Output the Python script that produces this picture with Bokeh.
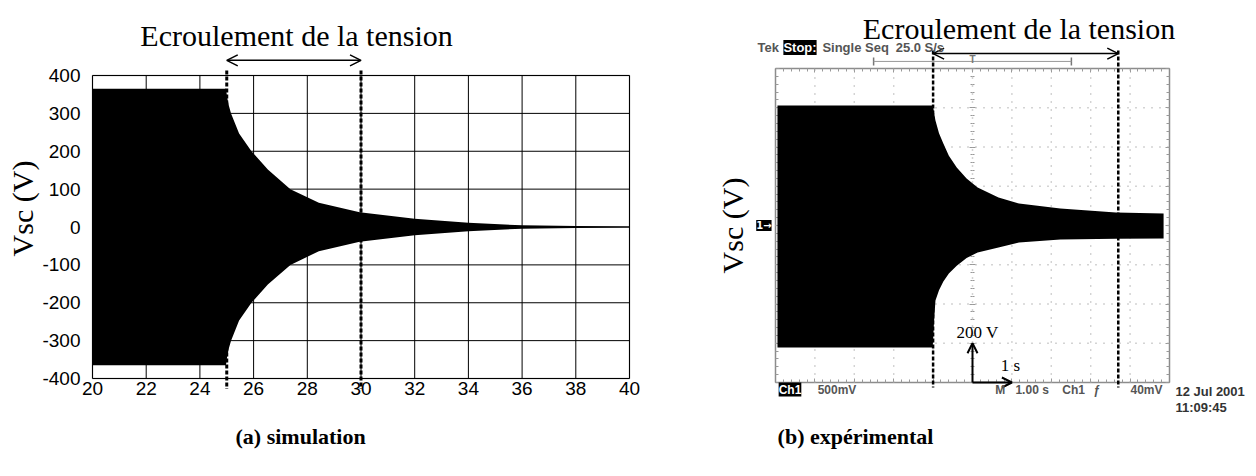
import math
from bokeh.plotting import figure
from bokeh.layouts import row
from bokeh.models import (Label, Arrow, OpenHead, TeeHead, FixedTicker, LinearAxis,
                          Range1d, BoxAnnotation)
from bokeh.embed import file_html
from bokeh.resources import INLINE

# ---------------- (a) simulation : envelope of Vsc (V) vs time (s)
sim_t = [20.0, 24.97, 25.02, 25.08, 25.16, 25.46, 25.92, 26.53, 27.37, 28.43,
         29.95, 32.0, 34.0, 36.0, 38.0, 40.0]
sim_amp = [365, 365, 340, 320, 300, 247, 200, 152, 100, 64,
           39, 22, 11, 4.5, 2.5, 1.5]
sim_xticks = [20, 22, 24, 26, 28, 30, 32, 34, 36, 38, 40]
sim_yticks = [-400, -300, -200, -100, 0, 100, 200, 300, 400]
sim_collapse = [25, 30]

# ---------------- (b) experimental (oscilloscope, 200 V/div, 1 s/div)
exp_t = [0.05, 3.99, 4.02, 4.06, 4.15, 4.26, 4.40, 4.60, 4.85, 5.13, 5.66,
         6.18, 7.23, 8.64, 9.85]
exp_top = [612, 612, 580, 535, 470, 418, 355, 296, 240, 194, 143,
           112, 87, 66, 61]
exp_bot = [-622, -622, -500, -382, -330, -285, -245, -205, -165, -138, -112,
           -87, -71, -67, -66]
exp_collapse = [4.0, 8.7]
volts_per_div = 200
secs_per_div = 1
scope_div_x = [0, 1, 2, 3, 4, 5, 6, 7, 8, 9, 10]                 # s
scope_div_y = [-800, -600, -400, -200, 0, 200, 400, 600, 800]    # V

SERIF = "Liberation Serif"
SANS = "Liberation Sans"
GRAY = "#555555"

# ---------------- layout (pixels)
H = 470
B_T, B_B = 6, 60                 # common top / bottom borders of both figures
L_W, L_BL, L_BR = 688, 80, 47    # left figure
R_W, R_BL, R_BR = 566, 6, 6      # right figure

# ======================= left figure =======================
s_px_x = 537 / (sim_xticks[-1] - sim_xticks[0])     # px per second
s_px_y = 303 / (sim_yticks[-1] - sim_yticks[0])     # px per volt
lx0 = sim_xticks[0] - (92 - L_BL) / s_px_x
ly1 = sim_yticks[-1] + (75 - B_T) / s_px_y
p1 = figure(width=L_W, height=H,
            x_range=Range1d(lx0, lx0 + (L_W - L_BL - L_BR) / s_px_x),
            y_range=Range1d(ly1 - (H - B_T - B_B) / s_px_y, ly1),
            output_backend="svg", toolbar_location=None,
            min_border_left=L_BL, min_border_right=L_BR,
            min_border_top=B_T, min_border_bottom=B_B)
p1.background_fill_color = "white"
p1.border_fill_color = "white"
p1.outline_line_color = None
p1.xgrid.visible = False
p1.ygrid.visible = False

sbx = (sim_xticks[0], sim_xticks[-1])
sby = (sim_yticks[0], sim_yticks[-1])
p1.xaxis.ticker = FixedTicker(ticks=sim_xticks)
p1.yaxis.ticker = FixedTicker(ticks=sim_yticks)
p1.xaxis.fixed_location = sim_yticks[0]
p1.xaxis.bounds = sbx
p1.yaxis.bounds = sby
p1.yaxis.major_label_overrides = {v: str(v) for v in sim_yticks}
for ax in (p1.xaxis, p1.yaxis):
    ax.axis_line_color = None
    ax.major_tick_line_color = None
    ax.minor_tick_line_color = None
    ax.major_tick_in = 0
    ax.major_tick_out = 0
    ax.major_label_text_font = SANS
    ax.major_label_text_font_size = "19px"
    ax.major_label_text_color = "black"
p1.yaxis.major_label_standoff = 0
p1.xaxis.major_label_standoff = 3
p1.yaxis.axis_label = "Vsc (V)"
p1.yaxis.axis_label_text_font = SERIF
p1.yaxis.axis_label_text_font_size = "30px"
p1.yaxis.axis_label_text_font_style = "normal"
p1.yaxis.axis_label_text_color = "black"
p1.yaxis.axis_label_standoff = 0

# grid of the chart box (at the tick positions)
p1.segment(x0=sim_xticks, y0=[sby[0]] * len(sim_xticks), x1=sim_xticks,
           y1=[sby[1]] * len(sim_xticks), line_color="black", line_width=1)
p1.segment(x0=[sbx[0]] * len(sim_yticks), y0=sim_yticks, x1=[sbx[1]] * len(sim_yticks),
           y1=sim_yticks, line_color="black", line_width=1)

p1.varea(x=sim_t, y1=[-a for a in sim_amp], y2=sim_amp, fill_color="black")
p1.add_layout(BoxAnnotation(left=sbx[0], right=sbx[1], bottom=sby[0], top=sby[1],
                            fill_color=None, line_color="black", line_width=1.5))

for xc in sim_collapse:
    p1.add_layout(Arrow(x_start=xc, y_start=413, x_end=xc, y_end=-428, start=None, end=None,
                        line_color="black", line_width=3, line_dash="4 2"))
p1.add_layout(Arrow(x_start=sim_collapse[0], y_start=440, x_end=sim_collapse[1], y_end=440,
                    start=OpenHead(size=11, line_width=1.5), end=OpenHead(size=11, line_width=1.5),
                    line_width=1.5, line_color="black"))
p1.add_layout(Label(x=27.6, y=505, text="Ecroulement de la tension", text_font=SERIF,
                    text_font_size="30px", text_color="black", text_align="center",
                    text_baseline="alphabetic"))
p1.add_layout(Label(x=27.75, y=-553, text="(a) simulation", text_font=SERIF,
                    text_font_size="22px", text_font_style="bold", text_color="black",
                    text_align="center", text_baseline="middle"), "below")

# ======================= right figure (oscilloscope screen) =======================
px_per_s = 394 / (scope_div_x[-1] - scope_div_x[0])
px_per_v = 314 / (scope_div_y[-1] - scope_div_y[0])
rx0 = scope_div_x[0] - (87 - R_BL) / px_per_s
ry1 = scope_div_y[-1] + (68 - B_T) / px_per_v
p2 = figure(width=R_W, height=H,
            x_range=Range1d(rx0, rx0 + (R_W - R_BL - R_BR) / px_per_s),
            y_range=Range1d(ry1 - (H - B_T - B_B) / px_per_v, ry1),
            x_axis_location=None, y_axis_location=None,
            output_backend="svg", toolbar_location=None,
            min_border_left=R_BL, min_border_right=R_BR,
            min_border_top=B_T, min_border_bottom=B_B)
p2.background_fill_color = "white"
p2.border_fill_color = "white"
p2.outline_line_color = None
for g in p2.grid:
    g.visible = False

minor_x = [i * secs_per_div / 5 for i in range(0, 51)]
minor_y = [scope_div_y[0] + i * volts_per_div / 5 for i in range(0, 41)]
xb = (scope_div_x[0], scope_div_x[-1])
yb = (scope_div_y[0], scope_div_y[-1])

# dotted graticule
inner_x = scope_div_x[1:-1]
inner_y = scope_div_y[1:-1]
p2.segment(x0=inner_x, y0=[yb[0]] * len(inner_x), x1=inner_x, y1=[yb[1]] * len(inner_x),
           line_color="#a8a8a8", line_width=1.5, line_dash="1 7")
p2.segment(x0=[xb[0]] * len(inner_y), y0=inner_y, x1=[xb[1]] * len(inner_y), y1=inner_y,
           line_color="#a8a8a8", line_width=1.5, line_dash="1 7")

def scope_axis(side, loc, border):
    horiz = side in ("below", "above")
    ticker = FixedTicker(ticks=scope_div_x if horiz else scope_div_y,
                         minor_ticks=minor_x if horiz else minor_y)
    ax = LinearAxis(ticker=ticker, fixed_location=loc, bounds=xb if horiz else yb)
    ax.level = "underlay"
    ax.axis_line_color = "#8c8c8c" if border else None
    ax.axis_line_width = 1.5
    ax.major_label_text_font_size = "0px"
    ax.major_label_text_color = None
    ax.major_label_standoff = 0
    ax.major_tick_line_color = "#999999"
    ax.minor_tick_line_color = "#999999"
    ax.major_tick_in = 4 if border else 3
    ax.minor_tick_in = 3 if border else 2
    ax.major_tick_out = 0
    ax.minor_tick_out = 0
    p2.add_layout(ax, side)

scope_axis("below", scope_div_y[0], True)
scope_axis("above", scope_div_y[-1], True)
scope_axis("left", scope_div_x[0], True)
scope_axis("right", scope_div_x[-1], True)
scope_axis("below", 0, False)
scope_axis("above", 0, False)
scope_axis("left", 5, False)
scope_axis("right", 5, False)

p2.varea(x=exp_t, y1=exp_bot, y2=exp_top, fill_color="black")

for xc in exp_collapse:
    p2.add_layout(Arrow(x_start=xc, y_start=892, x_end=xc, y_end=-825, start=None, end=None,
                        line_color="black", line_width=2.5, line_dash="4 2"))
p2.add_layout(Arrow(x_start=exp_collapse[0], y_start=876, x_end=exp_collapse[1], y_end=876,
                    start=OpenHead(size=11, line_width=1.5), end=OpenHead(size=11, line_width=1.5),
                    line_width=1.5, line_color="black"))
p2.add_layout(Label(x=6.18, y=1004, text="Ecroulement de la tension", text_font=SERIF,
                    text_font_size="30px", text_color="black", text_align="center",
                    text_baseline="alphabetic"))
p2.add_layout(Label(x=-1.09, y=0, text="Vsc (V)", text_font=SERIF, text_font_size="30px",
                    text_color="black", angle=math.pi / 2, text_align="center",
                    text_baseline="middle"))
p2.add_layout(Label(x=2.03, y=-1075, text="(b) expérimental", text_font=SERIF,
                    text_font_size="22px", text_font_style="bold", text_color="black",
                    text_align="center", text_baseline="middle"), "below")

# scale arrows
p2.add_layout(Arrow(x_start=5, y_start=-800, x_end=5, y_end=-800 + volts_per_div,
                    end=OpenHead(size=10, line_width=2), line_width=2, line_color="black"))
p2.add_layout(Arrow(x_start=5, y_start=-800, x_end=5 + secs_per_div, y_end=-800,
                    end=OpenHead(size=10, line_width=2), line_width=2, line_color="black"))
p2.add_layout(Label(x=5.13, y=-545, text="200 V", text_font=SERIF, text_font_size="17px",
                    text_color="black", text_align="center", text_baseline="middle"))
p2.add_layout(Label(x=5.96, y=-713, text="1 s", text_font=SERIF, text_font_size="17px",
                    text_color="black", text_align="center", text_baseline="middle"))

# oscilloscope read-outs
def osc(x, y, text, color=GRAY, bg=None, size="12px", align="left", font=SANS, side=None):
    lab = Label(x=x, y=y, text=text, text_font=font, text_font_size=size,
                text_font_style="bold", text_color=color, text_align=align,
                text_baseline="middle")
    if bg is not None:
        lab.background_fill_color = bg
    if side is None:
        p2.add_layout(lab)
    else:
        p2.add_layout(lab, side)

osc(-0.457, 907, "Tek", size="13px")
osc(0.2, 907, "Stop:", color="white", bg="black", size="13px")
osc(1.19, 907, "Single Seq", size="13px")
osc(3.05, 907, "25.0 S/s", size="13px")
p2.add_layout(Arrow(x_start=2.49, y_start=836, x_end=7.51, y_end=836,
                    start=TeeHead(size=8, line_color="#777777", line_width=1.5),
                    end=TeeHead(size=8, line_color="#777777", line_width=1.5),
                    line_color="#999999", line_width=1))
osc(5.0, 846, "T", color="#777777", size="10px", align="center")
osc(-0.1, 0, "1→", color="white", bg="black", size="10px", align="right", font="DejaVu Sans")
osc(0.08, -836, "Ch1", color="white", bg="black")
osc(1.07, -836, "500mV")
osc(5.58, -836, "M")
osc(6.09, -836, "1.00 s")
osc(7.28, -836, "Ch1")
osc(8.07, -836, "ƒ")
osc(9.01, -836, "40mV")
osc(10.15, -846, "12 Jul 2001", color="#333333", size="13px")
osc(10.15, -928, "11:09:45", color="#333333", size="13px", side="below")

layout = row(p1, p2)
open("out.html", "w").write(file_html(layout, INLINE))
